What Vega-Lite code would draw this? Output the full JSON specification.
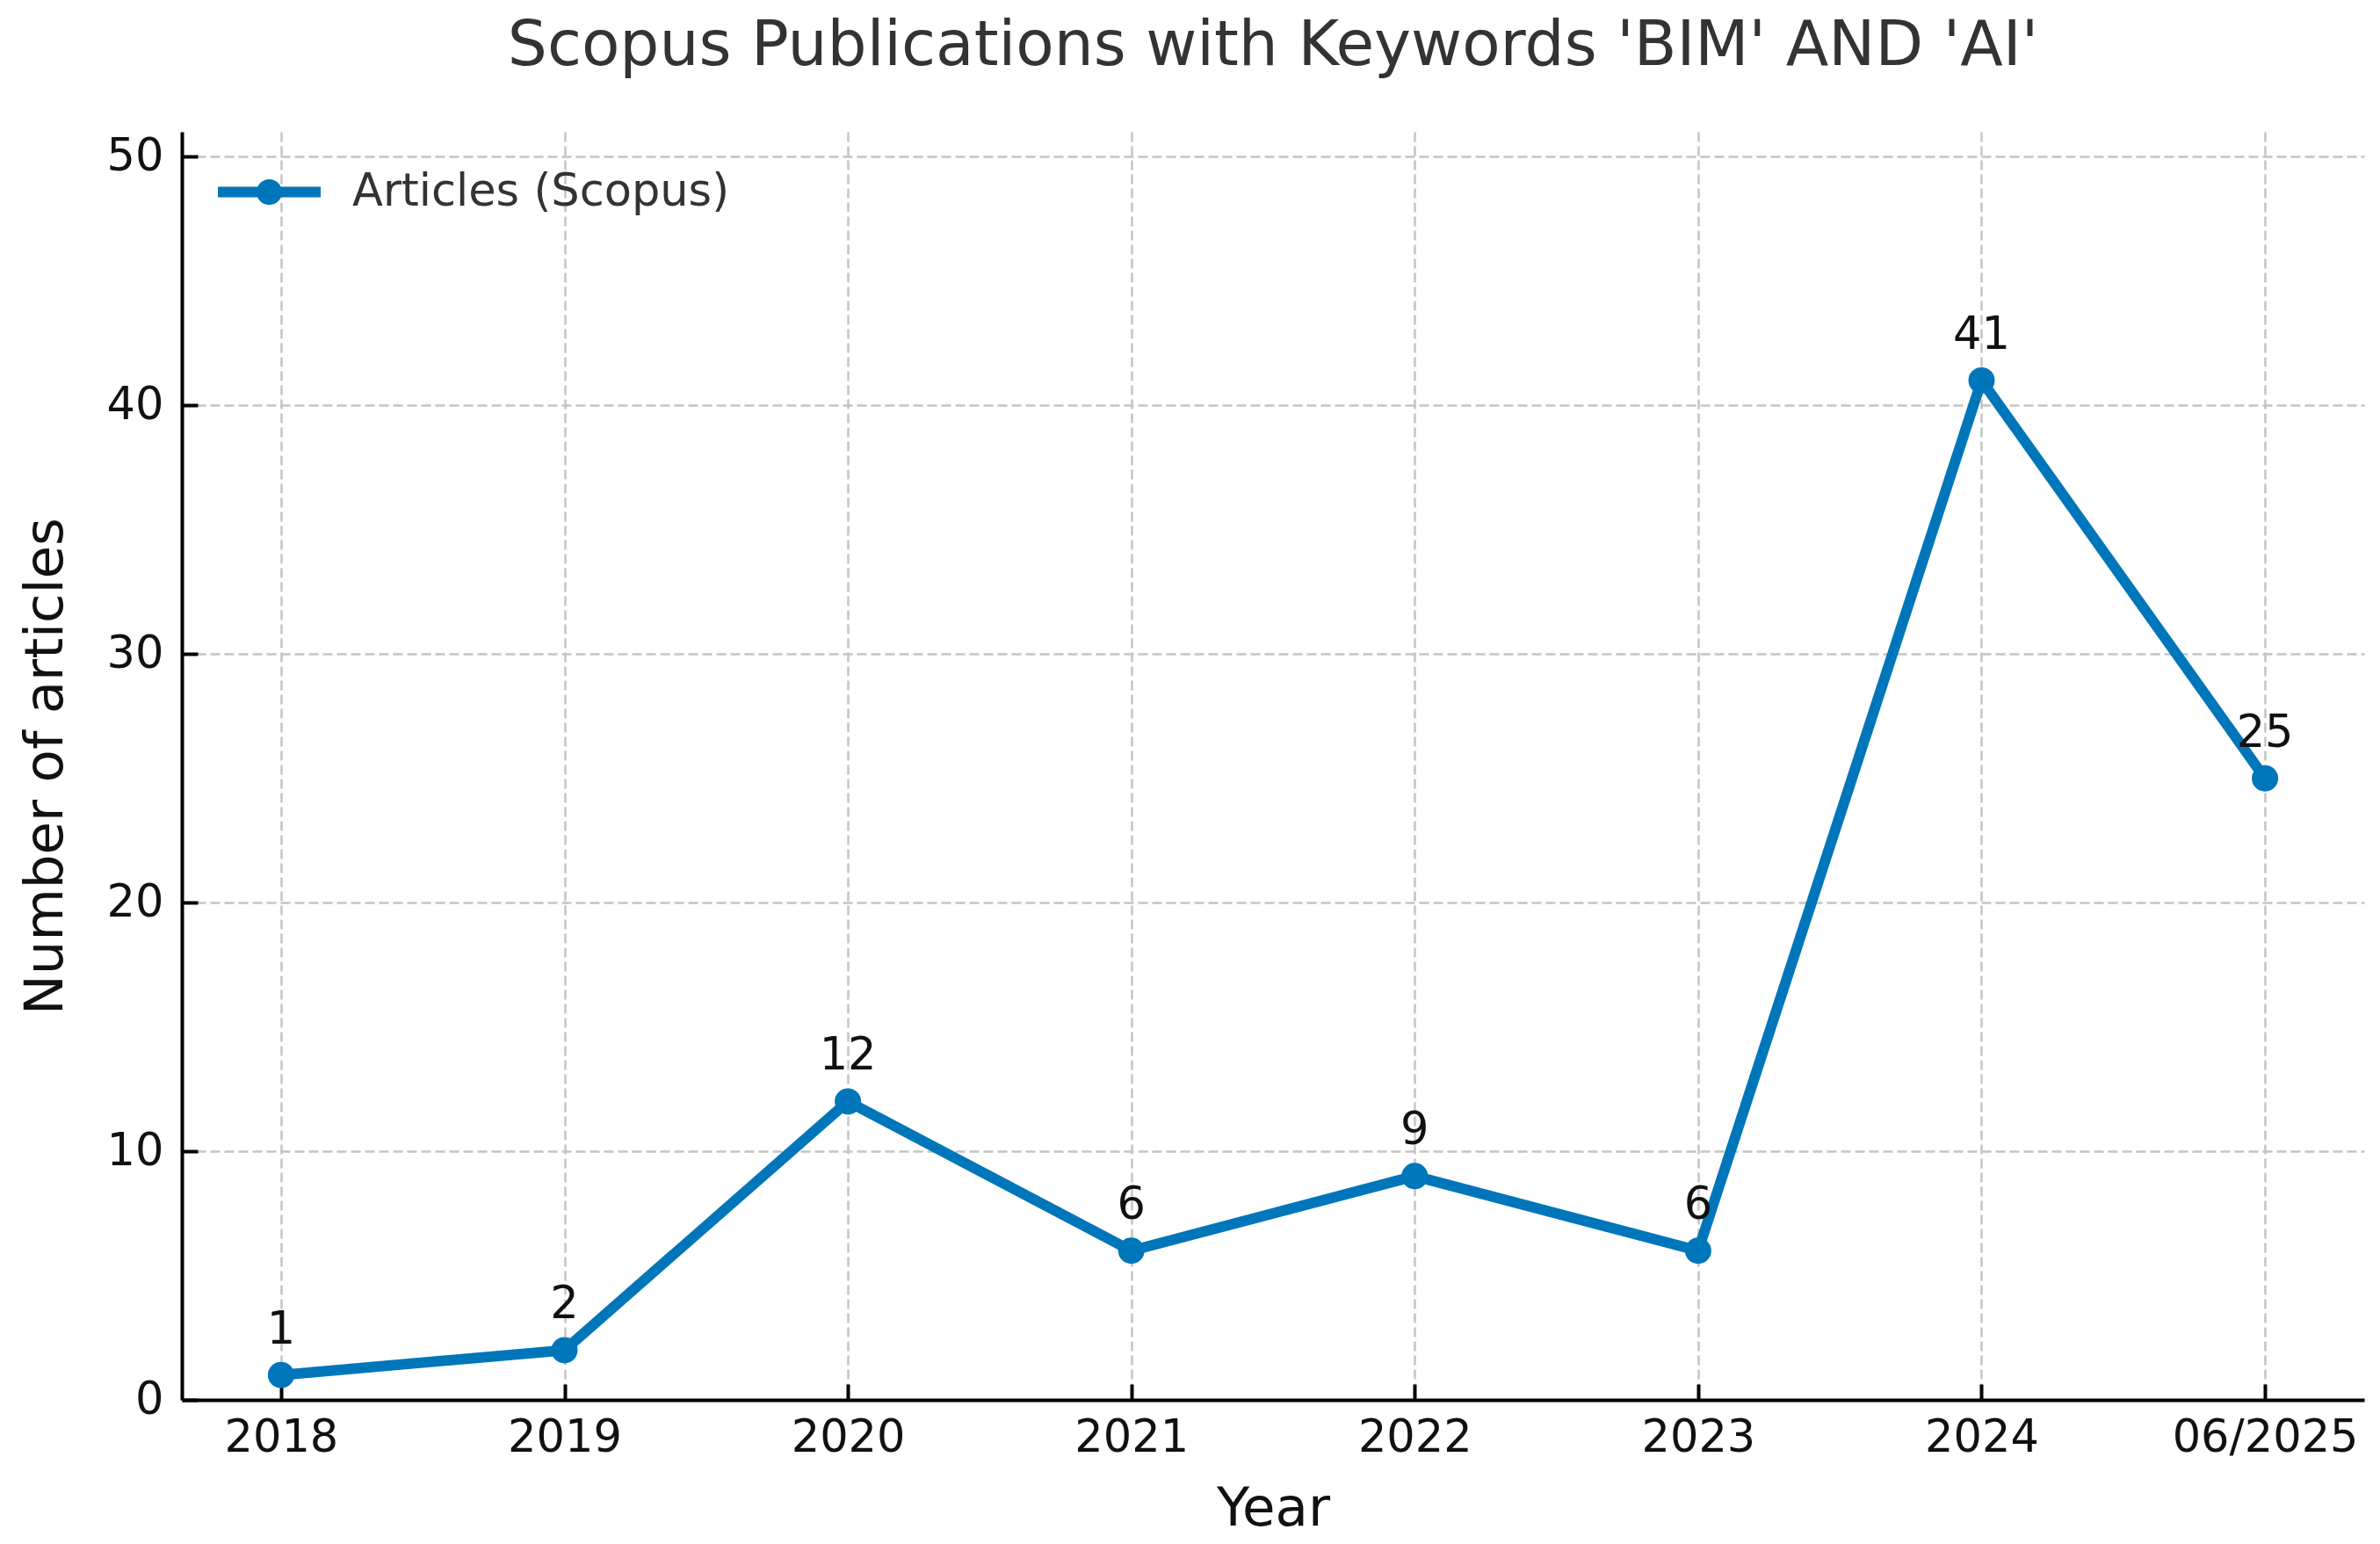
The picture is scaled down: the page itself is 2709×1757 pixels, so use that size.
{
  "$schema": "https://vega.github.io/schema/vega-lite/v6.json",
  "autosize": "none",
  "width": 2484,
  "height": 1443,
  "padding": {"left": 207, "top": 150, "right": 18, "bottom": 164},
  "background": "white",
  "title": {
    "text": "Scopus Publications with Keywords 'BIM' AND 'AI'",
    "font": "DejaVu Sans",
    "fontSize": 71,
    "fontWeight": "normal",
    "color": "#333333",
    "anchor": "middle",
    "frame": "group",
    "baseline": "alphabetic",
    "offset": 5
  },
  "data": {
    "values": [
      {"year": "2018", "articles": 1},
      {"year": "2019", "articles": 2},
      {"year": "2020", "articles": 12},
      {"year": "2021", "articles": 6},
      {"year": "2022", "articles": 9},
      {"year": "2023", "articles": 6},
      {"year": "2024", "articles": 41},
      {"year": "06/2025", "articles": 25}
    ]
  },
  "encoding": {
    "x": {
      "field": "year",
      "type": "ordinal",
      "sort": null,
      "scale": {"type": "point", "padding": 0.35},
      "axis": {
        "title": "Year",
        "labelAngle": 0,
        "labelFontSize": 51,
        "titleFontSize": 61,
        "labelPadding": 36,
        "titlePadding": 26,
        "labelLimit": 1000
      }
    },
    "y": {
      "field": "articles",
      "type": "quantitative",
      "scale": {"domain": [0, 51], "nice": false, "zero": true},
      "axis": {
        "title": "Number of articles",
        "values": [0, 10, 20, 30, 40, 50],
        "labelFontSize": 51,
        "titleFontSize": 61,
        "labelPadding": 39,
        "titlePadding": 38
      }
    }
  },
  "layer": [
    {
      "mark": {"type": "line", "color": "#0076ba", "strokeWidth": 12, "strokeJoin": "round", "strokeCap": "butt"}
    },
    {
      "mark": {"type": "point", "filled": true, "opacity": 1, "size": 900, "shape": "circle"},
      "encoding": {
        "color": {
          "datum": "Articles (Scopus)",
          "type": "nominal",
          "scale": {"range": ["#0076ba"]},
          "legend": {
            "title": null,
            "orient": "none",
            "legendX": 41,
            "legendY": 10,
            "padding": 0,
            "symbolType": "M-1,-0.103H1V0.103H-1Z M0.25,0A0.25,0.25,0,1,1,-0.25,0A0.25,0.25,0,1,1,0.25,0Z",
            "symbolSize": 13689,
            "symbolStrokeWidth": 0,
            "symbolOpacity": 1,
            "labelFont": "DejaVu Sans",
            "labelFontSize": 51,
            "labelColor": "#333333",
            "labelOffset": 36,
            "labelLimit": 1000
          }
        }
      }
    },
    {
      "mark": {"type": "text", "font": "DejaVu Sans", "fontSize": 51, "color": "#111111", "baseline": "alphabetic", "align": "center", "dy": -36},
      "encoding": {"text": {"field": "articles", "type": "quantitative"}}
    }
  ],
  "config": {
    "view": {"stroke": null},
    "axis": {
      "labelFont": "DejaVu Sans",
      "titleFont": "DejaVu Sans",
      "labelColor": "#111111",
      "titleColor": "#111111",
      "titleFontWeight": "normal",
      "domainColor": "#000000",
      "domainWidth": 4,
      "tickColor": "#000000",
      "tickWidth": 4,
      "tickSize": -18,
      "grid": true,
      "gridColor": "#c4c4c4",
      "gridWidth": 2.5,
      "gridDash": [11, 5]
    }
  }
}
